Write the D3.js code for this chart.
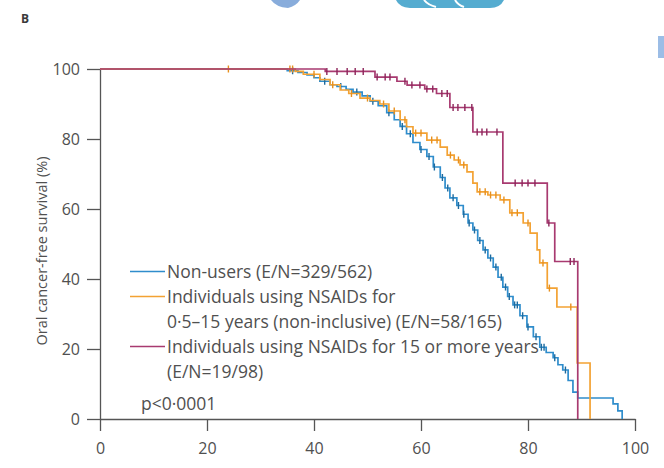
<!DOCTYPE html>
<html>
<head>
<meta charset="utf-8">
<script src="https://cdn.jsdelivr.net/npm/d3@7"></script>
<style>
  body { margin: 0; background: #fff; }
  svg { display: block; font-family: "Open Sans", "Noto Sans", sans-serif; }
</style>
</head>
<body>
<div id="chart"></div>
<script>
// axis ticks
let xTicks = [0, 20, 40, 60, 80, 100];
let yTicks = [0, 20, 40, 60, 80, 100];

// legend labels
let legendRows = [
	"Non-users (E/N=329/562)",
	"Individuals using NSAIDs for",
	"0·5–15 years (non-inclusive) (E/N=58/165)",
	"Individuals using NSAIDs for 15 or more years",
	"(E/N=19/98)"
];
let pText = "p<0·0001";

// Non-users: age (years) and survival (%) after each drop
let nonUsersAge = [0, 35, 37, 38.7, 40, 41.1, 43, 44.3, 46, 47.3, 49, 50.5, 52, 53.6, 55, 56.1, 57.3, 58.5, 59.8, 61.1, 62.3, 63.6, 64.5, 65.4, 66.7, 67.9, 68.8, 69.7, 70.6, 71.6, 72.5, 73.5, 74.4, 75.3, 76.2, 77.2, 78.5, 79.8, 81, 82.2, 83.4, 84.7, 85.6, 86.5, 87.5, 88.4, 89.3, 95.9, 96.8, 97.6];
let nonUsersSurv = [100, 99.5, 99, 98.3, 97.5, 96.5, 95.5, 95, 94.2, 93.4, 92.3, 90.8, 89.5, 87.5, 85.5, 83.6, 81.5, 79, 77, 75, 72, 69, 66, 63.2, 61, 58.5, 56, 54, 51, 48.3, 46, 43.4, 40.5, 37.7, 35, 32.6, 29.5, 26.3, 23.5, 20.5, 19, 17.5, 15.5, 14, 11, 7.7, 6, 4.3, 2.3, 0];
let nonUsersCens = [36, 42, 45, 48, 51, 54, 56.5, 58, 60, 61.5, 62.5, 64, 65, 66, 67, 68, 69, 70, 71, 72, 73, 74, 75, 75.8, 76.5, 77.5, 78, 79, 80, 81.5, 82.5, 83, 85, 87];

// NSAIDs 0.5-15 years
let shortAge = [0, 36.5, 38, 41.1, 43, 44.9, 46.5, 48.6, 50.5, 52.3, 54, 56.1, 57.3, 58.5, 61.1, 63.6, 64.9, 66.2, 67.3, 68.6, 69.7, 70.5, 72.5, 74.8, 76.6, 79.1, 80.4, 81.7, 82.2, 83.6, 85.4, 89.2, 91.6];
let shortSurv = [100, 99.3, 98.5, 97, 95.5, 94, 93, 91.7, 91, 90, 88, 85.5, 83.5, 81.7, 79.7, 77.7, 75.4, 74, 72.6, 70.6, 67.4, 64.9, 64, 62.6, 58.9, 56, 53.1, 48.3, 44.6, 37.4, 32, 16, 0];
let shortCens = [24, 35.5, 36, 40, 43.5, 47, 50, 53, 55, 57, 59, 60, 62, 63, 65.5, 67, 68, 71, 72, 73, 74, 75.5, 77, 78, 80, 82.8, 84, 88];

// NSAIDs 15 or more years
let longAge = [0, 42.1, 51.4, 55.5, 57.4, 60.7, 62.9, 65.4, 69.7, 75.3, 83.6, 85, 89.3];
let longSurv = [100, 99.3, 97.7, 96.5, 95.4, 94.3, 93, 89, 82, 67.4, 56, 45, 0];
let longCens = [42.4, 44.3, 46.2, 47.7, 49.2, 51.8, 53.3, 54.2, 57, 58.3, 59.8, 61.1, 62.2, 63.9, 64.9, 66, 66.9, 68.2, 69.5, 70.5, 71.4, 72.3, 74.2, 77.6, 78.9, 80, 81.3, 83.9, 87.9, 88.6];

let colors = ["#2f8dcc", "#f3a233", "#a83a70"];
let censColors = ["#1d6a9e", "#e8901d", "#8d245a"];

let width = 664, height = 468;
let margin = { top: 69, right: 29, bottom: 49, left: 100 };

let svg = d3.select("#chart").append("svg")
	.attr("width", width)
	.attr("height", height);

// scraps of the page around the figure
svg.append("path")
	.attr("d", "M 271 0 L 300 0 Q 296 6 288 8 Q 276 7 271 0 Z")
	.attr("fill", "#88acdb");
svg.append("path")
	.attr("d", "M 396 0 L 504 0 Q 500 8 490 8 L 410 8 Q 399 7 396 0 Z")
	.attr("fill", "#55acd0");
svg.append("path")
	.attr("d", "M 424 0 Q 428 5 436 7 M 455 0 Q 458 5 464 7")
	.attr("stroke", "#fff").attr("stroke-width", 2).attr("fill", "none");
svg.append("rect")
	.attr("x", 658).attr("y", 36).attr("width", 6).attr("height", 22)
	.attr("fill", "#9cbde6");

svg.append("text")
	.attr("x", 21).attr("y", 23)
	.attr("font-size", 12).attr("font-weight", "bold")
	.attr("fill", "#3a3a3a")
	.text("B");

let x = d3.scaleLinear()
	.domain([0, 100])
	.range([margin.left, width - margin.right]);

let y = d3.scaleLinear()
	.domain([0, 100])
	.range([height - margin.bottom, margin.top]);

let axisColor = "#555";
let textColor = "#505050";

svg.append("g")
	.attr("transform", "translate(0," + (height - margin.bottom) + ")")
	.call(d3.axisBottom(x).tickValues(xTicks).tickSize(12).tickSizeOuter(0).tickPadding(12))
	.call(g => g.selectAll("path, line").attr("stroke", axisColor).attr("stroke-width", 1.3))
	.call(g => g.selectAll("text").attr("fill", textColor).attr("font-size", 16)
		.attr("font-family", "Open Sans, sans-serif"));

svg.append("g")
	.attr("transform", "translate(" + margin.left + ",0)")
	.call(d3.axisLeft(y).tickValues(yTicks).tickSize(13).tickSizeOuter(0).tickPadding(7))
	.call(g => g.selectAll("path, line").attr("stroke", axisColor).attr("stroke-width", 1.3))
	.call(g => g.selectAll("text").attr("fill", textColor).attr("font-size", 16)
		.attr("font-family", "Open Sans, sans-serif"));

svg.append("text")
	.attr("transform", "translate(47," + y(48) + ") rotate(-90)")
	.attr("text-anchor", "middle")
	.attr("font-size", 14.5)
	.attr("fill", textColor)
	.text("Oral cancer-free survival (%)");

// KM step curves
let series = [
	{ age: nonUsersAge, surv: nonUsersSurv, cens: nonUsersCens },
	{ age: shortAge, surv: shortSurv, cens: shortCens },
	{ age: longAge, surv: longSurv, cens: longCens }
];

let line = d3.line()
	.x(d => x(d[0]))
	.y(d => y(d[1]))
	.curve(d3.curveStepAfter);

function survAt(s, t) {
	let v = 100;
	for (let i = 0; i < s.age.length; i++) {
		if (s.age[i] <= t) v = s.surv[i];
	}
	return v;
}

series.forEach((s, i) => {
	let pts = s.age.map((a, j) => [a, s.surv[j]]);
	svg.append("path")
		.attr("d", line(pts))
		.attr("fill", "none")
		.attr("stroke", colors[i])
		.attr("stroke-width", 1.7);

	svg.append("g")
		.selectAll("line")
		.data(s.cens)
		.enter().append("line")
		.attr("x1", d => x(d)).attr("x2", d => x(d))
		.attr("y1", d => y(survAt(s, d)) - 3.5)
		.attr("y2", d => y(survAt(s, d)) + 3.5)
		.attr("stroke", censColors[i])
		.attr("stroke-width", 1.4);
});

// legend
let rowBase = [278, 303, 328, 353, 378];
let rowLine = [0, 1, null, 2, null];

legendRows.forEach((t, i) => {
	if (rowLine[i] !== null) {
		svg.append("line")
			.attr("x1", 130).attr("x2", 165)
			.attr("y1", rowBase[i] - 6.5).attr("y2", rowBase[i] - 6.5)
			.attr("stroke", colors[rowLine[i]])
			.attr("stroke-width", 1.5);
	}
	svg.append("text")
		.attr("x", 167).attr("y", rowBase[i])
		.attr("font-size", 17.5)
		.attr("fill", textColor)
		.text(t);
});

svg.append("text")
	.attr("x", 141).attr("y", 410)
	.attr("font-size", 17.5)
	.attr("fill", textColor)
	.text(pText);
</script>
</body>
</html>
